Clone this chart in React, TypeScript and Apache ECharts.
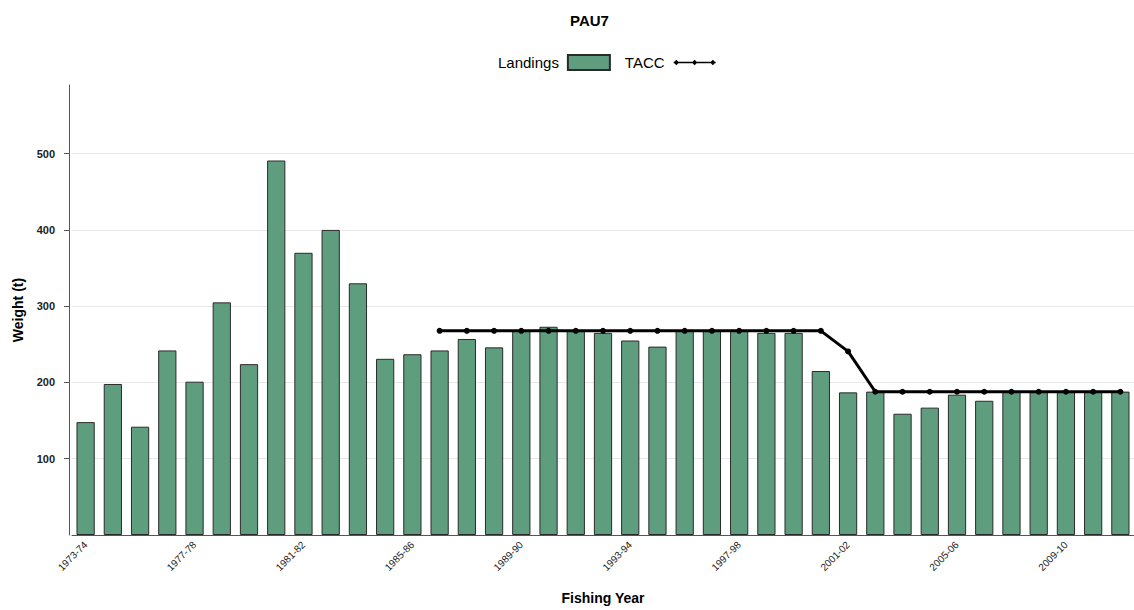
import React, { useEffect, useRef } from "react";
import * as echarts from "echarts";

const categories: string[] = [
  "1973-74", "1974-75", "1975-76", "1976-77", "1977-78", "1978-79", "1979-80", "1980-81",
  "1981-82", "1982-83", "1983-84", "1984-85", "1985-86", "1986-87", "1987-88", "1988-89",
  "1989-90", "1990-91", "1991-92", "1992-93", "1993-94", "1994-95", "1995-96", "1996-97",
  "1997-98", "1998-99", "1999-00", "2000-01", "2001-02", "2002-03", "2003-04", "2004-05",
  "2005-06", "2006-07", "2007-08", "2008-09", "2009-10", "2010-11", "2011-12",
];

const landings: number[] = [
  148, 198, 142, 242, 201, 305, 224, 491,
  370, 400, 330, 231, 237, 242, 257, 246,
  268, 273, 268, 265, 255, 247, 268, 268,
  268, 265, 265, 215, 187, 188, 159, 167,
  184, 176, 188, 188, 188, 188, 188,
];

const tacc: (number | null)[] = [
  null, null, null, null, null, null, null, null,
  null, null, null, null, null, 267.7, 267.7, 267.7,
  267.7, 267.7, 267.7, 267.7, 267.7, 267.7, 267.7, 267.7,
  267.7, 267.7, 267.7, 267.7, 240.7, 187.8, 187.8, 187.8,
  187.8, 187.8, 187.8, 187.8, 187.8, 187.8, 187.8,
];

const FONT = 'Arial, "Liberation Sans", sans-serif';

const TACC_ICON =
  "path://M0,3.2L46,3.2L46,4.8L0,4.8Z" +
  "M3,1L6,4L3,7L0,4Z" +
  "M23,1L26,4L23,7L20,4Z" +
  "M43,1L46,4L43,7L40,4Z";

export default function App() {
  const ref = useRef<HTMLDivElement>(null);
  useEffect(() => {
    if (!ref.current) return;
    const chart = echarts.init(ref.current, null, { renderer: "svg" });
    chart.setOption({
      animation: false,
      backgroundColor: "#ffffff",
      title: {
        text: "PAU7",
        left: 565,
        top: 8,
        textStyle: { fontFamily: FONT, fontSize: 15, fontWeight: "bold", color: "#000" },
      },
      legend: {
        left: 493,
        top: 49,
        align: "right",
        itemWidth: 42,
        itemHeight: 15,
        itemGap: 14,
        textStyle: { fontFamily: FONT, fontSize: 15, color: "#000", padding: [0, 4, 0, 0] },
        data: [
          { name: "Landings", icon: "rect" },
          { name: "TACC", icon: TACC_ICON, itemStyle: { color: "#000" } },
        ],
      },
      grid: { left: 72, right: -12, top: 85, bottom: 72 },
      xAxis: {
        type: "category",
        data: categories,
        name: "Fishing Year",
        nameLocation: "middle",
        nameGap: 56,
        nameTextStyle: { fontFamily: FONT, fontSize: 14, fontWeight: "bold", color: "#000" },
        axisLine: { lineStyle: { color: "#555", width: 1 } },
        axisTick: { show: false },
        axisLabel: {
          interval: 3,
          rotate: 45,
          margin: 8,
          fontFamily: FONT,
          fontSize: 10,
          color: "#222",
        },
      },
      yAxis: {
        type: "value",
        min: 0,
        max: 590,
        interval: 100,
        offset: 3,
        name: "Weight (t)",
        nameLocation: "middle",
        nameGap: 44,
        nameTextStyle: { fontFamily: FONT, fontSize: 14, fontWeight: "bold", color: "#000" },
        axisLine: { show: true, lineStyle: { color: "#555", width: 1 } },
        axisTick: { show: true, length: 5, lineStyle: { color: "#555" } },
        axisLabel: {
          showMinLabel: false,
          showMaxLabel: false,
          margin: 14,
          fontFamily: FONT,
          fontSize: 11,
          fontWeight: "bold",
          color: "#222",
        },
        splitLine: {
          show: true,
          showMinLine: false,
          showMaxLine: false,
          lineStyle: { color: "#e8e8e8", width: 1 },
        },
      },
      series: [
        {
          name: "Landings",
          type: "bar",
          data: landings,
          barWidth: "67%",
          itemStyle: { color: "#5e9e7e", borderColor: "#2a2a2a", borderWidth: 1 },
        },
        {
          name: "TACC",
          type: "line",
          data: tacc,
          symbol: "circle",
          symbolSize: 6,
          lineStyle: { color: "#000", width: 3 },
          itemStyle: { color: "#000" },
          z: 3,
        },
      ],
    });
    return () => chart.dispose();
  }, []);
  return (
    <div
      ref={ref}
      style={{ position: "fixed", left: 0, top: 0, width: 1134, height: 610, background: "#fff" }}
    />
  );
}
